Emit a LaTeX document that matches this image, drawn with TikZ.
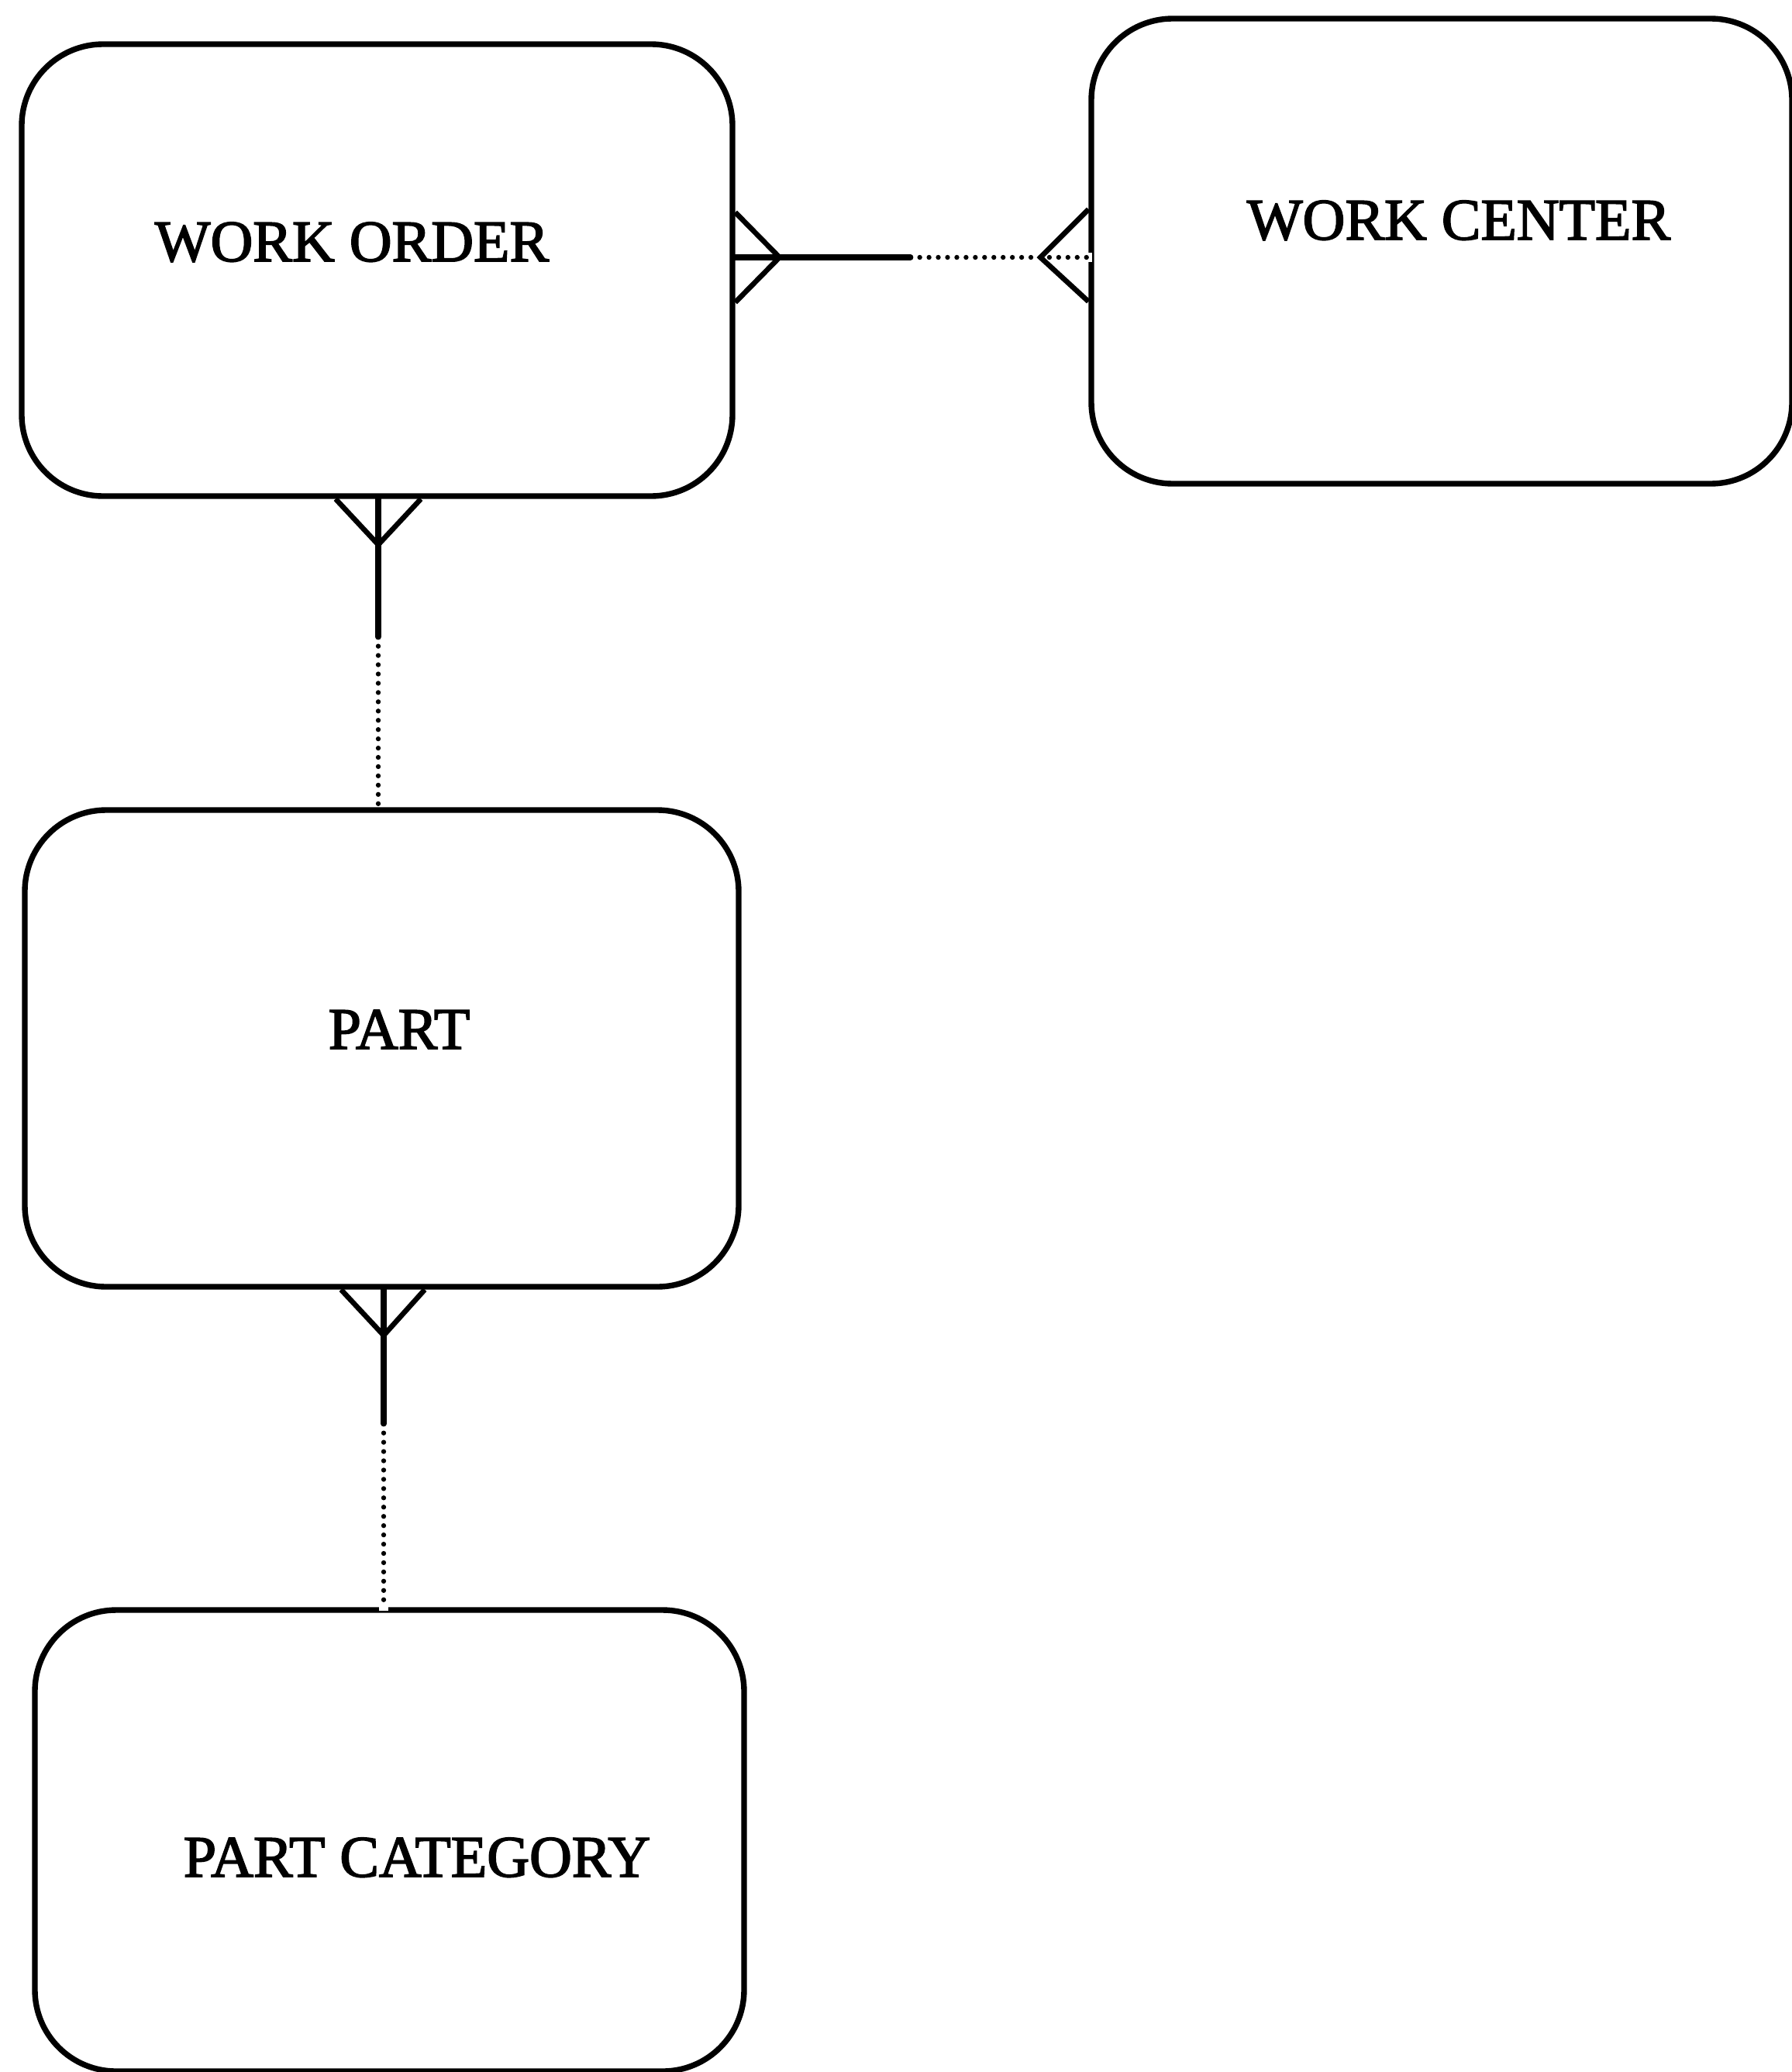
\documentclass[tikz,border=0pt]{standalone}
\usepackage{fontspec}
\setmainfont{Liberation Serif}
\newfontfamily\titlefont[FakeBold=2.2]{Liberation Serif}
\usetikzlibrary{calc}
\tikzset{
  entity/.style={draw, line width=2.1pt, rounded corners=1.05cm, inner sep=0pt},
  title/.style={anchor=base, inner sep=0pt, font=\titlefont\fontsize{21.6pt}{26pt}\selectfont},
  rel/.style={line width=2.1pt, line cap=round},
  reldots/.style={line width=1.8pt, line cap=round, dash pattern=on 0pt off 3.4pt},
  crow/.style={line width=1.9pt, line join=miter},
  gap/.style={draw=white, line width=2.8pt},
}
\begin{document}
\begin{tikzpicture}
\path[use as bounding box, fill=white] (0,0) rectangle (23.11,-26.73);

% entities
\node[entity, minimum width=9.17cm, minimum height=5.83cm] (wo) at (4.865,-3.485) {};
\node[entity, minimum width=9.04cm, minimum height=6.00cm] (wc) at (18.60,-3.24) {};
\node[entity, minimum width=9.21cm, minimum height=6.15cm] (part) at (4.925,-13.525) {};
\node[entity, minimum width=9.15cm, minimum height=5.95cm] (cat) at (5.025,-23.745) {};

\node[title] (wo-t) at (4.54,-3.37) {WORK ORDER};
\node[title] (wc-t) at (18.82,-3.09) {WORK CENTER};
\node[title] (part-t) at (5.15,-13.53) {PART};
\node[title] (cat-t) at (5.38,-24.21) {PART CATEGORY};

% WORK ORDER -- WORK CENTER (many to many)
\coordinate (h1) at (0,-3.32);
\coordinate (a0) at (wo.east |- h1);
\coordinate (a1) at ($(a0)+(0.57,0)$);
\coordinate (am) at ($(a0)+(2.26,0)$);
\coordinate (b0) at (wc.west |- h1);
\coordinate (b1) at ($(b0)+(-0.62,0)$);
\draw[crow] ($(a0)+(0,0.58)$) -- (a1) -- ($(a0)+(0,-0.58)$);
\draw[rel] (a0) -- (am);
\draw[gap] ($(b0)+(0,0.06)$) -- ($(b0)+(0,-0.06)$);
\draw[reldots] (am) -- (b0);
\draw[crow] ($(b0)+(0,0.62)$) -- (b1) -- ($(b0)+(0,-0.57)$);

% WORK ORDER -- PART
\coordinate (v1) at (4.88,0);
\coordinate (c0) at (wo.south -| v1);
\coordinate (c1) at ($(c0)+(0,-0.59)$);
\coordinate (cm) at ($(c0)+(0,-1.78)$);
\coordinate (d0) at (part.north -| v1);
\draw[crow] ($(c0)+(-0.55,0)$) -- (c1) -- ($(c0)+(0.55,0)$);
\draw[rel] (c0) -- (cm);
\draw[reldots] (cm) -- (d0);

% PART -- PART CATEGORY
\coordinate (v2) at (4.95,0);
\coordinate (e0) at (part.south -| v2);
\coordinate (e1) at ($(e0)+(0,-0.59)$);
\coordinate (em) at ($(e0)+(0,-1.73)$);
\coordinate (f0) at (cat.north -| v2);
\draw[crow] ($(e0)+(-0.55,0)$) -- (e1) -- ($(e0)+(0.53,0)$);
\draw[rel] (e0) -- (em);
\draw[gap] ($(f0)+(-0.06,0)$) -- ($(f0)+(0.06,0)$);
\draw[reldots] (em) -- (f0);
\end{tikzpicture}
\end{document}
